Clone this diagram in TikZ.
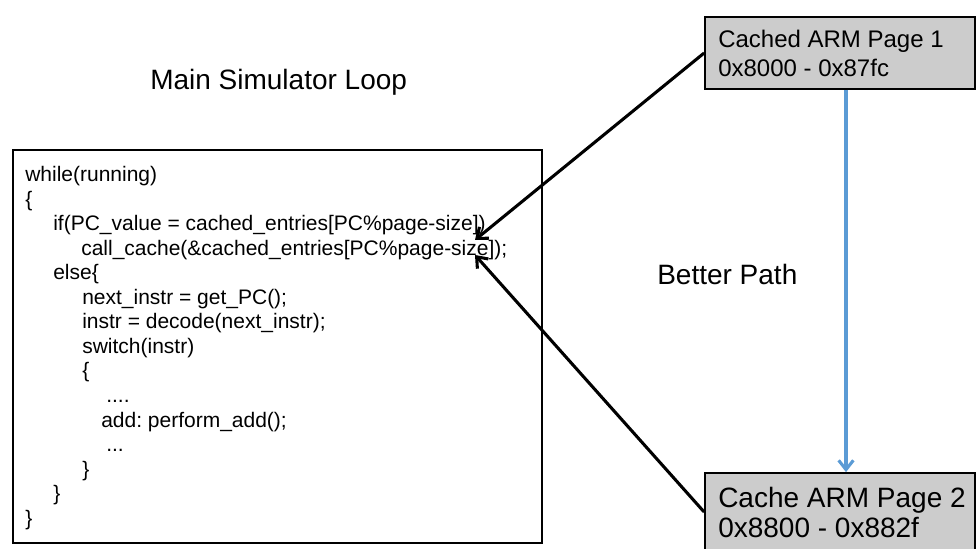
\documentclass[tikz,border=0pt]{standalone}
\usepackage{fontspec}
\setmainfont{Liberation Sans}
\usetikzlibrary{arrows.meta,calc}
\definecolor{boxgray}{RGB}{204,204,204}
\definecolor{pathblue}{RGB}{91,155,213}
\frenchspacing
\begin{document}
\begin{tikzpicture}[x=0.75pt,y=-0.75pt,
  codeline/.style={anchor=base west,inner sep=0pt,font=\fontsize{15.75}{19}\selectfont},
  pagebox/.style={draw=black,line width=1.3pt,fill=boxgray,minimum width=270*0.75pt,inner sep=0pt},
  pagetext/.style={anchor=base west,inner sep=0pt},
  title/.style={anchor=base west,inner sep=0pt,font=\fontsize{21}{25}\selectfont},
  blackarrow/.style={draw=black,line width=2.3pt,-{Straight Barb[length=7pt,width=11pt]}},
  bluearrow/.style={draw=pathblue,line width=2.3pt,-{Straight Barb[length=7pt,width=11pt]}}]
\useasboundingbox (0,0) rectangle (976,549);
\begin{scope}
\clip (0,0) rectangle (976,549);
% code box
\node[draw=black,line width=1pt,minimum width=529*0.75pt,minimum height=393*0.75pt,inner sep=0pt] (codebox) at (277.5,346.5) {};
% page boxes
\node[pagebox,minimum height=72*0.75pt] (p1) at (840,53) {};
\node[pagebox,minimum height=78*0.75pt] (p2) at (840,512) {};
\end{scope}
\node[pagetext,font=\fontsize{18}{22}\selectfont] (p1a) at (718,48) {Cached ARM Page 1};
\node[pagetext,font=\fontsize{18}{22}\selectfont] (p1b) at (718,77) {0x8000 - 0x87fc};
\node[pagetext,font=\fontsize{21}{25}\selectfont] (p2a) at (718,507) {Cache ARM Page 2};
\node[pagetext,font=\fontsize{21}{25}\selectfont] (p2b) at (718,537) {0x8800 - 0x882f};
% titles
\node[title] (maintitle) at (150,90) {Main Simulator Loop};
\node[title] (better) at (657,285) {Better Path};
% code lines
\node[codeline] (l0) at (25,182) {while(running)};
\node[codeline] (l1) at (25,206.5) {\{};
\node[codeline] (l2) at (53,231) {if(PC\_value = cached\_entries[PC\%page-size])};
\node[codeline] (l3) at (81,255.5) {call\_cache(\&cached\_entries[PC\%page-size]);};
\node[codeline] (l4) at (53,280) {else\{};
\node[codeline] (l5) at (82,304.5) {next\_instr = get\_PC();};
\node[codeline] (l6) at (82,329) {instr = decode(next\_instr);};
\node[codeline] (l7) at (82,353.5) {switch(instr)};
\node[codeline] (l8) at (82,378) {\{};
\node[codeline] (l9) at (106,402.5) {....};
\node[codeline] (l10) at (101,427) {add: perform\_add();};
\node[codeline] (l11) at (106,451.5) {...};
\node[codeline] (l12) at (82,476) {\}};
\node[codeline] (l13) at (53,500.5) {\}};
\node[codeline] (l14) at (25,525) {\}};
% arrow targets
\coordinate (t1) at (475,240);
\coordinate (t2) at (475,255);
\draw[blackarrow] (p1.west) -- (t1);
\draw[blackarrow] (p2.west) -- (t2);
\draw[bluearrow] ([xshift=6*0.75pt]p1.south) -- ([xshift=6*0.75pt]p2.north);
\end{tikzpicture}
\end{document}
